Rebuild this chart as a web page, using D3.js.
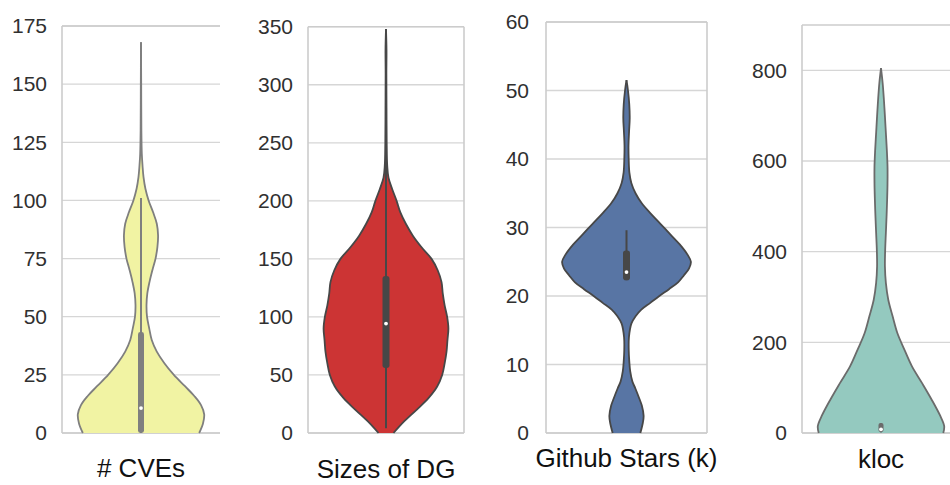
<!DOCTYPE html>
<html>
<head>
<meta charset="utf-8">
<script src="https://cdn.jsdelivr.net/npm/d3@7"></script>
<style>
  html, body { margin: 0; padding: 0; background: #fff; }
  svg { display: block; }
</style>
</head>
<body>
<svg id="chart" width="950" height="485"></svg>
<script>
// ---------- data ----------
const categories = ["# CVEs", "Sizes of DG", "Github Stars (k)", "kloc"];

const cveTicks   = [0, 25, 50, 75, 100, 125, 150, 175];
const dgTicks    = [0, 50, 100, 150, 200, 250, 300, 350];
const starTicks  = [0, 10, 20, 30, 40, 50, 60];
const klocTicks  = [0, 200, 400, 600, 800];

const yMax = [175, 350, 60, 900];

// violin profiles: [value, relative density (0..1)]
const cveDensity = [
  [0,0.92],[4,0.98],[8,1.0],[12,0.95],[16,0.84],[20,0.70],[25,0.52],[30,0.37],
  [35,0.25],[40,0.17],[45,0.13],[50,0.095],[55,0.087],[60,0.10],[65,0.135],
  [70,0.18],[75,0.23],[80,0.26],[85,0.27],[90,0.25],[95,0.19],[100,0.12],
  [105,0.07],[110,0.04],[115,0.024],[120,0.013],[130,0.006],[150,0.003],[168,0]
];
const dgDensity = [
  [0,0.12],[10,0.29],[20,0.49],[30,0.68],[40,0.82],[50,0.90],[60,0.94],[70,0.97],
  [80,0.985],[90,1.0],[100,0.98],[110,0.94],[120,0.91],[130,0.89],[140,0.83],
  [150,0.73],[160,0.57],[170,0.43],[180,0.32],[190,0.23],[200,0.17],[210,0.10],
  [220,0.04],[230,0.02],[250,0.011],[280,0.008],[310,0.006],[330,0.008],[348,0]
];
const starDensity = [
  [0,0.215],[1.5,0.254],[2.5,0.266],[4,0.238],[5,0.20],[6.5,0.138],[7.5,0.092],
  [9,0.058],[10.5,0.043],[12,0.035],[14,0.038],[16,0.077],[17,0.138],[18,0.23],
  [19,0.37],[20,0.51],[21,0.66],[22,0.80],[23,0.89],[24,0.97],[25,1.0],[26,0.95],
  [27.5,0.83],[29,0.68],[30.5,0.53],[32,0.38],[33.5,0.24],[35,0.14],[36.5,0.075],
  [38,0.045],[40,0.034],[42,0.031],[44,0.04],[46,0.05],[48,0.043],[50,0.023],[51.5,0]
];
const klocDensity = [
  [0,0.985],[15,1.0],[37,0.94],[74,0.80],[110,0.65],[147,0.49],[184,0.37],
  [220,0.26],[257,0.185],[294,0.115],[331,0.077],[368,0.062],[404,0.066],
  [441,0.077],[478,0.088],[515,0.097],[551,0.103],[588,0.103],[625,0.092],
  [662,0.077],[699,0.062],[735,0.046],[772,0.026],[805,0]
];

// inner box: [whisker low, q1, median, q3, whisker high]
const cveBox  = [0, 0, 10.7, 43, 101];
const dgBox   = [4, 56, 94.3, 134.4, 249];
const starBox = [22.3, 22.3, 23.5, 26.5, 29.6];
const klocBox = [1, 2, 8, 20, 22];

const fills   = ["#f1f3a3", "#cc3434", "#5875a4", "#94c9bf"];
const strokes = ["#7f7f7f", "#474747", "#474747", "#6b6b6b"];

// ---------- layout ----------
const layout = [
  {left: 62,  right: 220, top: 26,   bottom: 433, rightSpine: false, labelY: 477, tickGap: 15, boxW: 6},
  {left: 308, right: 464, top: 26.7, bottom: 433, rightSpine: true,  labelY: 478, tickGap: 15, boxW: 7},
  {left: 546, right: 707, top: 22,   bottom: 433, rightSpine: true,  labelY: 467, tickGap: 17, boxW: 7},
  {left: 802, right: 960, top: 25,   bottom: 433, rightSpine: true,  labelY: 468, tickGap: 15, boxW: 5}
];

const tickSets  = [cveTicks, dgTicks, starTicks, klocTicks];
const densities = [cveDensity, dgDensity, starDensity, klocDensity];
const boxes     = [cveBox, dgBox, starBox, klocBox];

const svg = d3.select("#chart");
const FONT = "Arial, 'Liberation Sans', Helvetica, sans-serif";

categories.forEach((cat, i) => {
  const L = layout[i];
  const g = svg.append("g");
  const y = d3.scaleLinear().domain([0, yMax[i]]).range([L.bottom, L.top]);
  const x = d3.scaleBand().domain([cat]).range([L.left, L.right]);
  const cx = x(cat) + x.bandwidth() / 2;
  const w = d3.scaleLinear().domain([0, 1]).range([0, x.bandwidth() * 0.4]);

  // grid lines
  g.selectAll("line.grid").data(tickSets[i]).enter().append("line")
    .attr("x1", L.left).attr("x2", L.right)
    .attr("y1", d => y(d)).attr("y2", d => y(d))
    .attr("stroke", "#d6d6d6").attr("stroke-width", 1.3);

  // spines
  const sp = "#cccccc";
  g.append("line").attr("x1", L.left).attr("x2", L.left).attr("y1", L.top).attr("y2", L.bottom)
    .attr("stroke", sp).attr("stroke-width", 1.6);
  g.append("line").attr("x1", L.left).attr("x2", L.right).attr("y1", L.bottom).attr("y2", L.bottom)
    .attr("stroke", sp).attr("stroke-width", 1.6);
  g.append("line").attr("x1", L.left).attr("x2", L.right).attr("y1", L.top).attr("y2", L.top)
    .attr("stroke", sp).attr("stroke-width", 1.6);
  if (L.rightSpine) {
    g.append("line").attr("x1", L.right).attr("x2", L.right).attr("y1", L.top).attr("y2", L.bottom)
      .attr("stroke", sp).attr("stroke-width", 1.6);
  }

  // y axis labels
  const axis = d3.axisLeft(y).tickValues(tickSets[i]).tickSize(0).tickPadding(L.tickGap)
    .tickFormat(d3.format("d"));
  const ag = g.append("g").attr("transform", `translate(${L.left},0)`).call(axis);
  ag.select(".domain").remove();
  ag.selectAll("text").attr("font-family", FONT).attr("font-size", 21).attr("fill", "#303030");

  // x label
  g.append("text").attr("x", cx).attr("y", L.labelY).attr("text-anchor", "middle")
    .attr("font-family", FONT).attr("font-size", 26).attr("fill", "#111")
    .text(cat);

  // violin
  const dens = densities[i];
  const area = d3.area().curve(d3.curveCatmullRom)
    .y(d => y(d[0])).x0(d => cx - w(d[1])).x1(d => cx + w(d[1]));
  g.append("path").attr("d", area(dens)).attr("fill", fills[i]).attr("stroke", "none");
  const left = d3.line().curve(d3.curveCatmullRom).x(d => cx - w(d[1])).y(d => y(d[0]));
  const right = d3.line().curve(d3.curveCatmullRom).x(d => cx + w(d[1])).y(d => y(d[0]));
  [left, right].forEach(fn => {
    g.append("path").attr("d", fn(dens)).attr("fill", "none")
      .attr("stroke", strokes[i]).attr("stroke-width", 1.8).attr("stroke-linejoin", "round");
  });

  // inner box
  const [lo, q1, med, q3, hi] = boxes[i];
  g.append("line").attr("x1", cx).attr("x2", cx).attr("y1", y(lo)).attr("y2", y(hi))
    .attr("stroke", strokes[i]).attr("stroke-width", 2);
  g.append("rect").attr("x", cx - L.boxW / 2).attr("width", L.boxW)
    .attr("y", y(q3) - 1).attr("height", Math.max(2, y(q1) - y(q3)) + 1)
    .attr("rx", L.boxW / 2.5).attr("fill", strokes[i]);
  g.append("circle").attr("cx", cx).attr("cy", y(med)).attr("r", 1.9).attr("fill", "#fff");
});
</script>
</body>
</html>
